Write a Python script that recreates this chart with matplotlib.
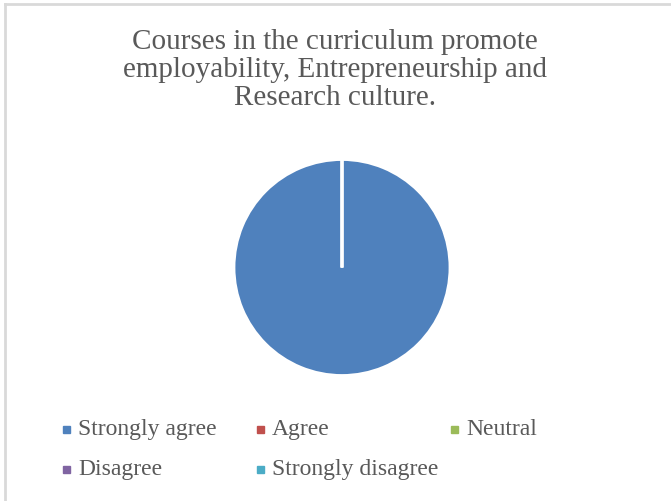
import matplotlib
matplotlib.use("Agg")
import matplotlib.pyplot as plt
from matplotlib.lines import Line2D
from matplotlib.patches import Rectangle

title = "Courses in the curriculum promote\nemployability, Entrepreneurship and\nResearch culture."
labels = ["Strongly agree", "Agree", "Neutral", "Disagree", "Strongly disagree"]
values = [100, 0, 0, 0, 0]
colors = ["#4F81BD", "#C0504D", "#9BBB59", "#8064A2", "#4BACC6"]

plt.rcParams['font.family'] = ['Liberation Serif', 'DejaVu Serif']

W, H = 671, 502
fig = plt.figure(figsize=(W / 100, H / 100), dpi=100)

# chart frame (only top and left edges show)
fig.add_artist(Line2D([5 / W, 5 / W], [0, 1 - 5 / H], color="#d9d9d9", lw=2))
fig.add_artist(Line2D([5 / W, 1], [1 - 5 / H, 1 - 5 / H], color="#d9d9d9", lw=2))

fig.text(335 / W, 1 - 70 / H, title, ha="center", va="center",
         fontsize=21, color="#595959", linespacing=1.12)

cx, cy, r = 342, 268.5, 108
ax = fig.add_axes([(cx - r) / W, (H - cy - r) / H, 2 * r / W, 2 * r / H])
ax.pie(values, colors=colors, startangle=90, counterclock=False,
       wedgeprops=dict(edgecolor="white", linewidth=2))
ax.set_xlim(-1, 1)
ax.set_ylim(-1, 1)
ax.axis("off")

# legend, laid out like the Excel one (3 columns, 2 rows)
for i, (lab, col) in enumerate(zip(labels, colors)):
    x = 63 + (i % 3) * 194
    y = 430 + (i // 3) * 40
    fig.add_artist(Rectangle((x / W, 1 - (y + 3.5) / H), 7 / W, 7 / H,
                             color=col, transform=fig.transFigure))
    fig.text((x + 15) / W, 1 - y / H, lab, ha="left", va="center",
             fontsize=17, color="#595959")

fig.savefig("out.png", dpi=100)
